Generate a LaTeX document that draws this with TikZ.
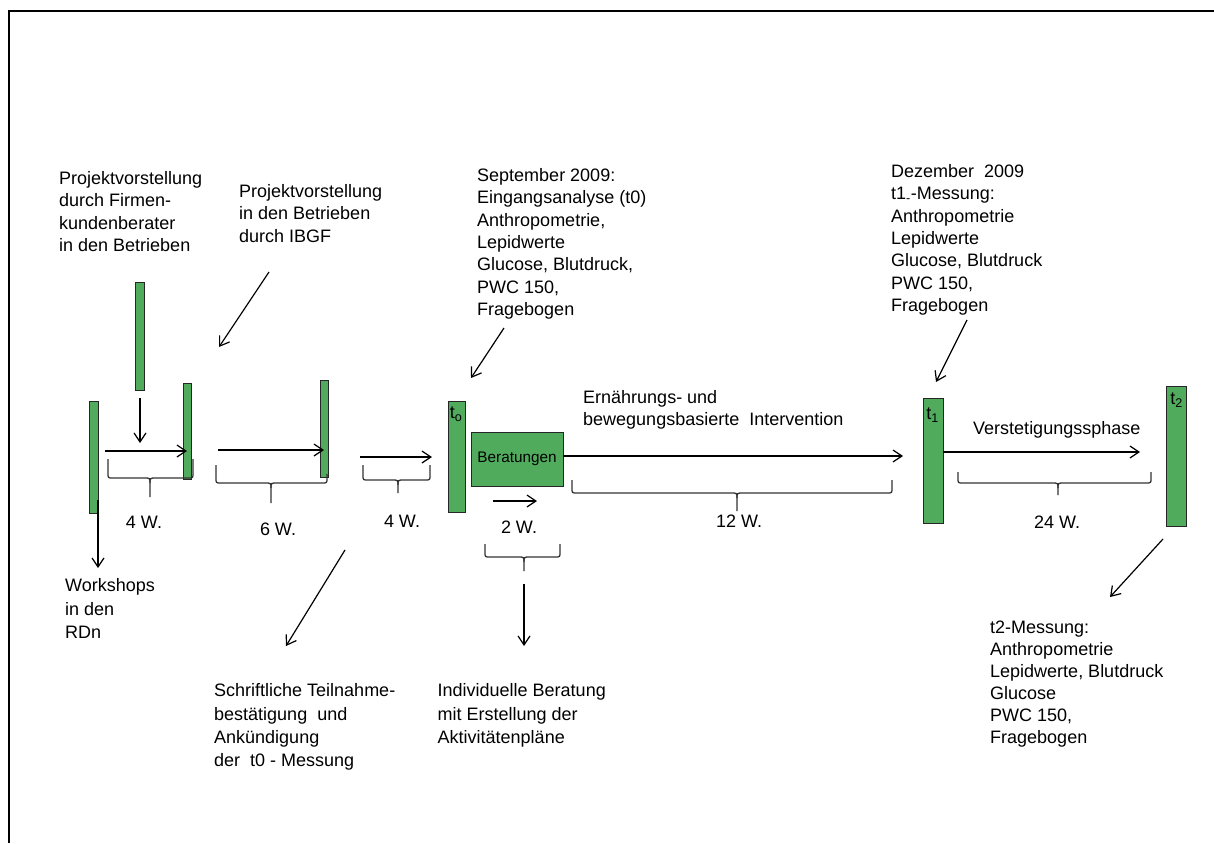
\documentclass[tikz,border=0pt]{standalone}
\usepackage{fontspec}
\setmainfont{Liberation Sans}
\usetikzlibrary{arrows.meta}
\definecolor{bargreen}{RGB}{80,172,92}
\tikzset{
  bar/.style={draw=black!85, line width=0.8pt, fill=bargreen, inner sep=0pt},
  arr/.style={-{Straight Barb[length=9pt,width=12pt]}, line width=1.2pt},
  bracestyle/.style={line width=1.3pt, draw=black!80},
  txt/.style={anchor=north west, inner sep=0pt, align=left, font=\fontsize{18}{22.3}\selectfont},
  txtb/.style={txt, font=\fontsize{18}{23.4}\selectfont},
  lbl/.style={inner sep=0pt, font=\fontsize{18}{22}\selectfont},
  tlab/.style={anchor=north west, inner sep=0pt, font=\fontsize{18}{20}\selectfont},
  frame/.style={line width=2pt, draw=black},
}
% x1 x2 xm ytopL ytopR ybot ytip
\newcommand\mybrace[7]{%
  \draw[bracestyle] (#1,#4) -- (#1,{#6-5}) .. controls (#1,#6) .. ({#1+5},#6) -- ({#3-6},#6) .. controls (#3,#6) .. (#3,{#6+5}) -- (#3,#7);
  \draw[bracestyle] (#3,{#6+5}) .. controls (#3,#6) .. ({#3+6},#6) -- ({#2-5},#6) .. controls (#2,#6) .. (#2,{#6-5}) -- (#2,#5);}
\begin{document}
\begin{tikzpicture}[x=1pt,y=-1pt]
\useasboundingbox (0,0) rectangle (1214,843);
% frame (top and left)
\draw[frame] (1214,11) -- (9,11) -- (9,843);

% bars
\node[bar, minimum width=9pt, minimum height=112pt] (barA) at (93.5,457) {};
\node[bar, minimum width=9pt, minimum height=108pt] (barB) at (139.5,336) {};
\node[bar, minimum width=8pt, minimum height=96pt] (barC) at (187,431) {};
\node[bar, minimum width=8pt, minimum height=97pt] (barD) at (324,428.5) {};
\node[bar, minimum width=17pt, minimum height=111pt] (bart0) at (456.5,456.5) {};
\node[bar, minimum width=92pt, minimum height=54pt, font=\fontsize{15.3}{18}\selectfont] (ber) at (517,459) {Beratungen};
\node[bar, minimum width=20pt, minimum height=125pt] (bart1) at (933,460.5) {};
\node[bar, minimum width=20pt, minimum height=140pt] (bart2) at (1176,456) {};

\node[tlab] (l0) at ([xshift=2pt,yshift=-6pt]bart0.north west) {t\textsubscript{o}};
\node[tlab] (l1) at ([xshift=3.5pt,yshift=-10pt]bart1.north west) {t\textsubscript{1}};
\node[tlab] (l2) at ([xshift=4.5pt,yshift=-7pt]bart2.north west) {t\textsubscript{2}};

% texts
\node[txt] (tA) at (59,171.4) {Projektvorstellung\\durch Firmen-\\kundenberater\\in den Betrieben};
\node[txt] (tB) at (239,184.4) {Projektvorstellung\\in den Betrieben\\durch IBGF};
\node[txt] (tC) at (477,168.4) {September 2009:\\Eingangsanalyse (t0)\\Anthropometrie,\\Lepidwerte\\Glucose, Blutdruck,\\PWC 150,\\Fragebogen};
\node[txt] (tD) at (891,164.4) {Dezember\ \ 2009\\t1\textsubscript{-}-Messung:\\Anthropometrie\\Lepidwerte\\Glucose, Blutdruck\\PWC 150,\\Fragebogen};
\node[txt] (tE) at (583,390.4) {Ernährungs- und\\bewegungsbasierte\ \ Intervention};
\node[txt] (tF) at (973,421.4) {Verstetigungssphase};
\node[txtb] (tG) at (65,578.4) {Workshops\\in den\\RDn};
\node[txtb] (tH) at (214,683.4) {Schriftliche Teilnahme-\\bestätigung\ \ und\\Ankündigung\\der\ \ t0 - Messung};
\node[txtb] (tI) at (437.5,683.4) {Individuelle Beratung\\mit Erstellung der\\Aktivitätenpläne};
\node[txt, font=\fontsize{18}{22}\selectfont] (tJ) at (990,620.4) {t2-Messung:\\Anthropometrie\\Lepidwerte, Blutdruck\\Glucose\\PWC 150,\\Fragebogen};

% week labels
\node[lbl] (w1) at (144,522) {4 W.};
\node[lbl] (w2) at (278,529) {6 W.};
\node[lbl] (w3) at (402,521) {4 W.};
\node[lbl] (w4) at (519,527) {2 W.};
\node[lbl] (w5) at (739,521) {12 W.};
\node[lbl] (w6) at (1057,522) {24 W.};

% arrow end points
\coordinate (pB) at (140,398);
\coordinate (qB) at (140,443);
\coordinate (pC) at (105,451);
\coordinate (pD) at (218,450);
\coordinate (p3) at (360,457);
\coordinate (q3) at (432,457);
\coordinate (q5) at (903,456);
\coordinate (p6) at (493,501);
\coordinate (q6) at (537,501);
\coordinate (q7) at (1140,452);
\coordinate (pA) at (98,500);
\coordinate (qA) at (98,568);
\coordinate (pI1) at (269,272);
\coordinate (qI1) at (219,347);
\coordinate (pT0) at (504,328);
\coordinate (qT0) at (471,378);
\coordinate (pT1) at (967,320);
\coordinate (qT1) at (936,382);
\coordinate (pT2) at (1163,539);
\coordinate (qT2) at (1110,597);
\coordinate (pS) at (345,550);
\coordinate (qS) at (286,646);
\coordinate (pR) at (524,584);
\coordinate (qR) at (524,646);

% arrows
\draw[arr] (pB) -- (qB);
\draw[arr] (pC) -- (barC.center |- pC);
\draw[arr] (pD) -- (barD.center |- pD);
\draw[arr] (p3) -- (q3);
\draw[arr] (ber.east |- q5) -- (q5);
\draw[arr] (p6) -- (q6);
\draw[arr] (bart1.east |- q7) -- (q7);
\draw[arr] (pA) -- (qA);
\draw[arr] (pI1) -- (qI1);
\draw[arr] (pT0) -- (qT0);
\draw[arr] (pT1) -- (qT1);
\draw[arr] (pT2) -- (qT2);
\draw[arr] (pS) -- (qS);
\draw[arr] (pR) -- (qR);

% braces
\mybrace{108}{193}{150}{459}{459}{478}{497}
\mybrace{216}{327}{271}{465}{474}{483}{503}
\mybrace{363}{430}{398}{465}{465}{480}{493}
\mybrace{572}{892}{737}{480}{480}{493}{511}
\mybrace{485}{560}{524}{544}{544}{557}{571}
\mybrace{958}{1151}{1058}{472}{472}{483}{495}
\end{tikzpicture}
\end{document}
